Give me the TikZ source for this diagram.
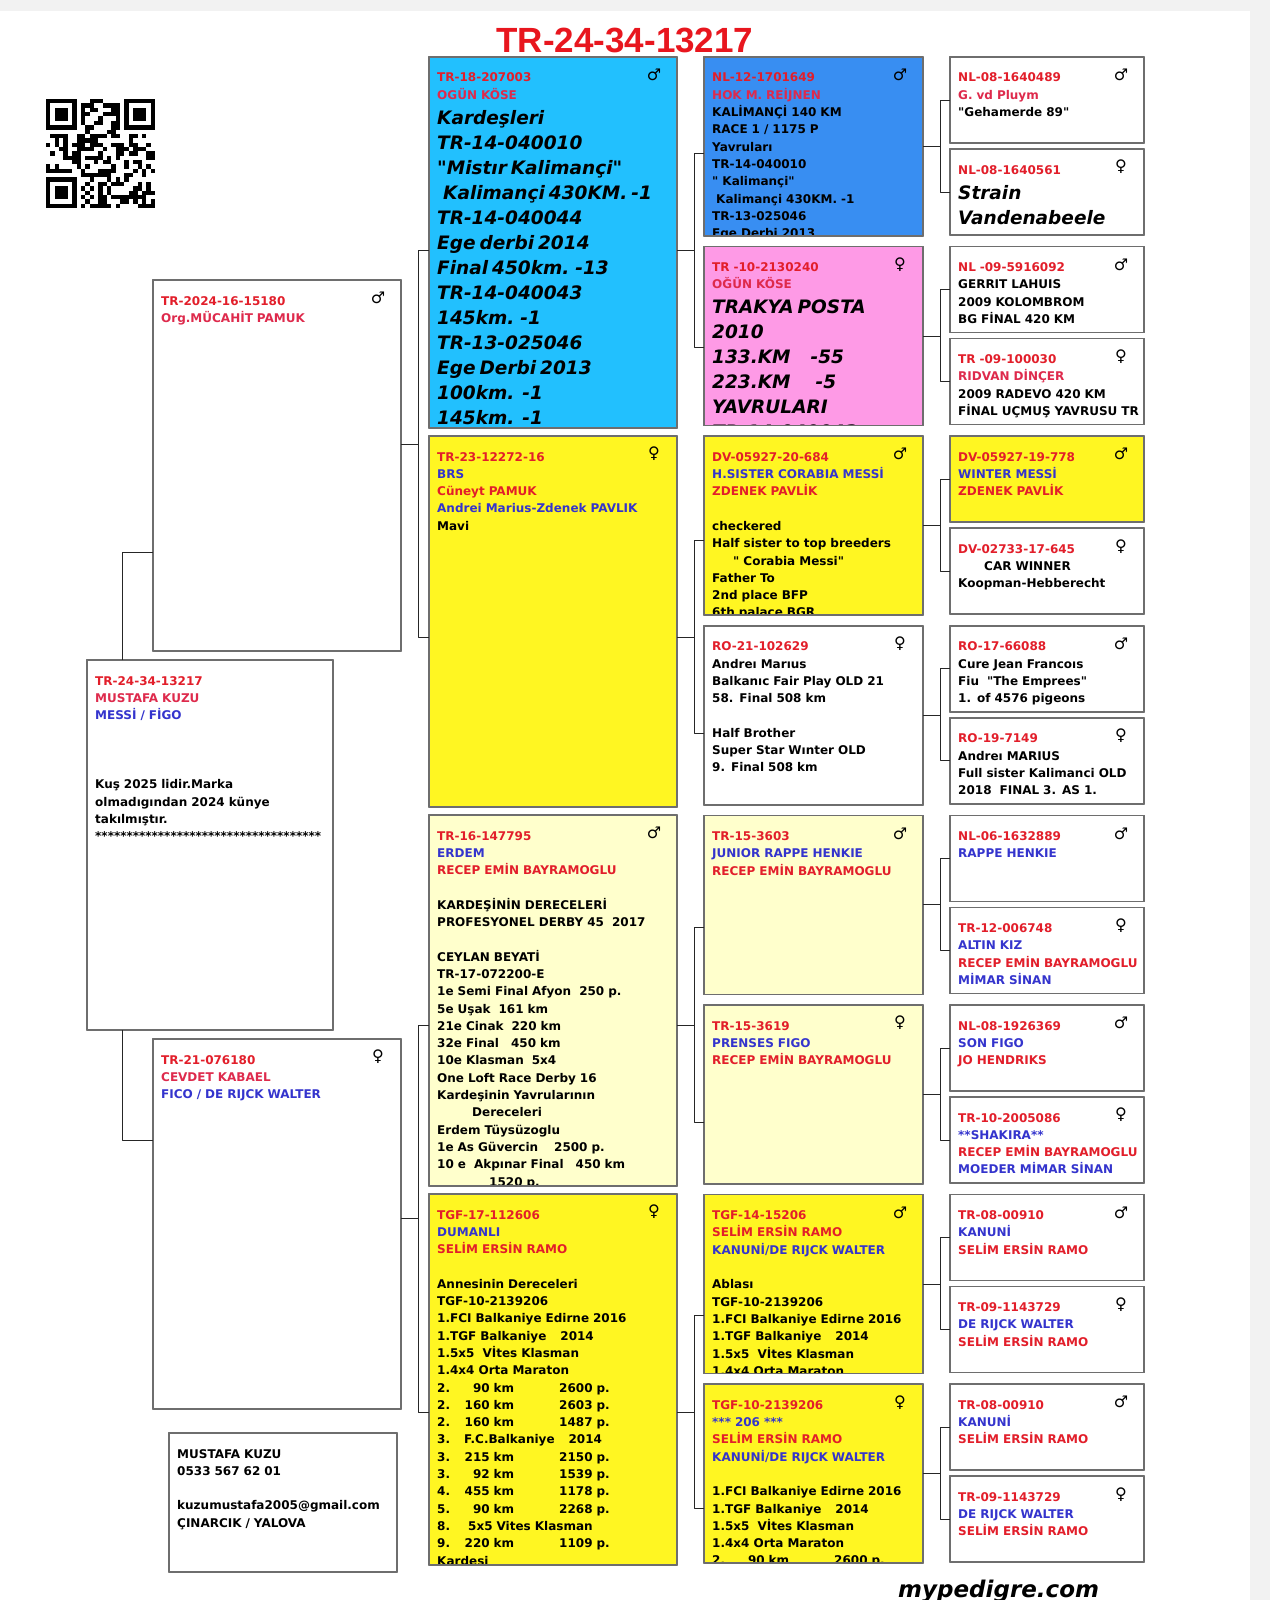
\documentclass[tikz,border=0pt]{standalone}
\usepackage{fontspec}
\setmainfont{DejaVu Sans}[Ligatures=TeXOff]
\newfontfamily\headfont{Liberation Sans}
\definecolor{titlered}{RGB}{232,22,30}
\definecolor{ringred}{RGB}{226,30,42}
\definecolor{namered}{RGB}{222,42,76}
\definecolor{nameblue}{RGB}{52,52,205}
\definecolor{boxcyan}{RGB}{34,192,254}
\definecolor{boxblue}{RGB}{56,142,242}
\definecolor{boxpink}{RGB}{254,154,230}
\definecolor{boxyellow}{RGB}{255,246,34}
\definecolor{boxcream}{RGB}{255,255,204}
\definecolor{linegray}{RGB}{110,110,110}
\definecolor{pagegray}{RGB}{242,242,242}
\newcommand{\txtn}{\fontsize{12}{17.3}\selectfont\bfseries}
\newcommand{\txtbig}{\fontsize{18.5}{25}\selectfont\bfseries\itshape}
\newcommand{\cred}[1]{\textcolor{ringred}{#1}}
\newcommand{\cpink}[1]{\textcolor{namered}{#1}}
\newcommand{\cblue}[1]{\textcolor{nameblue}{#1}}
\newcommand{\race}[3]{\makebox[25pt][l]{#1}\makebox[52pt][r]{#2}\hspace{45pt}#3}
\newcommand{\pedbox}[8]{%
  \node[pedcell, fill=#6, minimum width=#4pt, minimum height=#5pt] (#1) at (#2,#3) {};
  \begin{scope}
    \clip ([shift={(1,1)}]#1.north west) rectangle ([shift={(-1,-1)}]#1.south east);
    \node[ptxt] at ([shift={(8,25)}]#1.north west) {#8};
  \end{scope}
  \draw[draw=linegray, line width=1.6pt] (#1.north west) rectangle (#1.south east);
  \node[sexmark] at ([shift={(-23,18)}]#1.north east) {#7};
}
\begin{document}
\begin{tikzpicture}[x=1pt, y=-1pt, line join=round,
  pedcell/.style={draw=linegray, line width=1.6pt, anchor=north west, inner sep=0pt, outer sep=0pt},
  ptxt/.style={anchor=base west, inner sep=0pt, align=left, text width=320pt, font=\txtn},
  sexmark/.style={font=\fontsize{16}{16}\selectfont, inner sep=0pt},
  link/.style={draw=black!85, line width=0.9pt}]
\fill[pagegray] (0,0) rectangle (1270,1600);
\fill[white] (0,11) rectangle (1250,1600);
\useasboundingbox (0,0) rectangle (1270,1600);

\node[font=\headfont\fontsize{35}{40}\selectfont\bfseries, text=titlered, anchor=base, inner sep=0pt] (title) at (625,53) {TR-24-34-13217};
\node[font=\fontsize{23}{23}\selectfont\bfseries\itshape, anchor=base west, inner sep=0pt] (site) at (898,1597) {mypedigre.com};

\begin{scope}[shift={(46,99)}]
\pgfmathsetseed{1270}
\foreach \i in {0,...,24}{\foreach \j in {0,...,24}{
  \pgfmathsetmacro{\qrv}{rnd}
  \ifdim\qrv pt>0.52pt \fill (\i*4.36,\j*4.36) rectangle ++(4.36,4.36);\fi}}
\foreach \cx/\cy/\wx/\wy in {0/0/0/0, 18/0/17/0, 0/18/0/17}{
  \fill[white] (\wx*4.36,\wy*4.36) rectangle ++(34.88,34.88);
  \fill (\cx*4.36,\cy*4.36) rectangle ++(30.52,30.52);
  \fill[white] (\cx*4.36+4.36,\cy*4.36+4.36) rectangle ++(21.8,21.8);
  \fill (\cx*4.36+8.72,\cy*4.36+8.72) rectangle ++(13.08,13.08);}
\end{scope}

\pedbox{s}{153}{280}{248}{371}{white}{♂}{\cred{TR-2024-16-15180}\\ \cpink{Org.MÜCAHİT PAMUK}}
\pedbox{m}{87}{660}{246}{370}{white}{}{\cred{TR-24-34-13217}\\ \cpink{MUSTAFA KUZU}\\ \cblue{MESSİ / FİGO}\\ ~\\ ~\\ ~\\ Kuş 2025 lidir.Marka\\ olmadıgından 2024 künye\\ takılmıştır.\\ *************************************}
\pedbox{d}{153}{1039}{248}{370}{white}{♀}{\cred{TR-21-076180}\\ \cpink{CEVDET KABAEL}\\ \cblue{FICO / DE RIJCK WALTER}}
\pedbox{c}{169}{1433}{228}{139}{white}{}{MUSTAFA KUZU\\ 0533 567 62 01\\ ~\\ kuzumustafa2005@gmail.com\\ ÇINARCIK / YALOVA}

\pedbox{g2a}{429}{57}{248}{371}{boxcyan}{♂}{\cred{TR-18-207003}\\ \cpink{OGÜN KÖSE}\par
  {\txtbig Kardeşleri\\ TR-14-040010\\ "Mistır Kalimançi"\\ \hspace*{6pt}Kalimançi 430KM. -1\\ TR-14-040044\\ Ege derbi 2014\\ Final 450km. -13\\ TR-14-040043\\ 145km. -1\\ TR-13-025046\\ Ege Derbi 2013\\ 100km.\ \ -1\\ 145km.\ \ -1\par}}
\pedbox{g2b}{429}{436}{248}{371}{boxyellow}{♀}{\cred{TR-23-12272-16}\\ \cblue{BRS}\\ \cred{Cüneyt PAMUK}\\ \cblue{Andrei Marius-Zdenek PAVLIK}\\ Mavi}
\pedbox{g2c}{429}{815}{248}{371}{boxcream}{♂}{\cred{TR-16-147795}\\ \cblue{ERDEM}\\ \cred{RECEP EMİN BAYRAMOGLU}\\ ~\\ KARDEŞİNİN DERECELERİ\\ PROFESYONEL DERBY 45\ \ 2017\\ ~\\ CEYLAN BEYATİ\\ TR-17-072200-E\\ 1e Semi Final Afyon\ \ 250 p.\\ 5e Uşak\ \ 161 km\\ 21e Cinak\ \ 220 km\\ 32e Final\ \ \ 450 km\\ 10e Klasman\ \ 5x4\\ One Loft Race Derby 16\\ Kardeşinin Yavrularının\\ \hspace*{35pt}Dereceleri\\ Erdem Tüysüzoglu\\ 1e As Güvercin\ \ \ \ 2500 p.\\ 10 e\ \ Akpınar Final\ \ \ 450 km\\ \hspace*{52pt}1520 p.}
\pedbox{g2d}{429}{1194}{248}{371}{boxyellow}{♀}{\cred{TGF-17-112606}\\ \cblue{DUMANLI}\\ \cred{SELİM ERSİN RAMO}\\ ~\\ Annesinin Dereceleri\\ TGF-10-2139206\\ 1.FCI Balkaniye Edirne 2016\\ 1.TGF Balkaniye\hspace{14pt}2014\\ 1.5x5\ \ Vİtes Klasman\\ 1.4x4 Orta Maraton\\ \race{2.}{90 km}{2600 p.}\\ \race{2.}{160 km}{2603 p.}\\ \race{2.}{160 km}{1487 p.}\\ \makebox[27pt][l]{3.}F.C.Balkaniye\hspace{14pt}2014\\ \race{3.}{215 km}{2150 p.}\\ \race{3.}{92 km}{1539 p.}\\ \race{4.}{455 km}{1178 p.}\\ \race{5.}{90 km}{2268 p.}\\ \makebox[31pt][l]{8.}5x5 Vites Klasman\\ \race{9.}{220 km}{1109 p.}\\ Kardesi}

\pedbox{g3a}{704}{57}{219}{179}{boxblue}{♂}{\cred{NL-12-1701649}\\ \cpink{HOK M. REİJNEN}\\ KALİMANÇİ 140 KM\\ RACE 1 / 1175 P\\ Yavruları\\ TR-14-040010\\ " Kalimançi"\\ \hspace*{4pt}Kalimançi 430KM. -1\\ TR-13-025046\\ Ege Derbi 2013}
\pedbox{g3b}{704}{246.6}{219}{179}{boxpink}{♀}{\cred{TR -10-2130240}\\ \cpink{OĞÜN KÖSE}\par
  {\txtbig TRAKYA POSTA\\ 2010\\ 133.KM\hspace{20pt}-55\\ 223.KM\hspace{25pt}-5\\ YAVRULARI\\ TR-14-040043\par}}
\pedbox{g3c}{704}{436.2}{219}{179}{boxyellow}{♂}{\cred{DV-05927-20-684}\\ \cblue{H.SISTER CORABIA MESSİ}\\ \cred{ZDENEK PAVLİK}\\ ~\\ checkered\\ Half sister to top breeders\\ \hspace*{21pt}" Corabia Messi"\\ Father To\\ 2nd place BFP\\ 6th palace BGR}
\pedbox{g3d}{704}{625.8}{219}{179}{white}{♀}{\cred{RO-21-102629}\\ Andreı Marıus\\ Balkanıc Fair Play OLD 21\\ 58. Final 508 km\\ ~\\ Half Brother\\ Super Star Wınter OLD\\ 9. Final 508 km}
\pedbox{g3e}{704}{815.4}{219}{179}{boxcream}{♂}{\cred{TR-15-3603}\\ \cblue{JUNIOR RAPPE HENKIE}\\ \cred{RECEP EMİN BAYRAMOGLU}}
\pedbox{g3f}{704}{1005}{219}{179}{boxcream}{♀}{\cred{TR-15-3619}\\ \cblue{PRENSES FIGO}\\ \cred{RECEP EMİN BAYRAMOGLU}}
\pedbox{g3g}{704}{1194.6}{219}{179}{boxyellow}{♂}{\cred{TGF-14-15206}\\ \cred{SELİM ERSİN RAMO}\\ \cblue{KANUNİ/DE RIJCK WALTER}\\ ~\\ Ablası\\ TGF-10-2139206\\ 1.FCI Balkaniye Edirne 2016\\ 1.TGF Balkaniye\hspace{14pt}2014\\ 1.5x5\ \ Vİtes Klasman\\ 1.4x4 Orta Maraton}
\pedbox{g3h}{704}{1384.2}{219}{179}{boxyellow}{♀}{\cred{TGF-10-2139206}\\ \cblue{*** 206 ***}\\ \cred{SELİM ERSİN RAMO}\\ \cblue{KANUNİ/DE RIJCK WALTER}\\ ~\\ 1.FCI Balkaniye Edirne 2016\\ 1.TGF Balkaniye\hspace{14pt}2014\\ 1.5x5\ \ Vİtes Klasman\\ 1.4x4 Orta Maraton\\ \race{2.}{90 km}{2600 p.}}

\pedbox{g4a}{950}{57}{194}{86}{white}{♂}{\cred{NL-08-1640489}\\ \cpink{G. vd Pluym}\\ "Gehamerde 89"}
\pedbox{g4b}{950}{149}{194}{86}{white}{♀}{\cred{NL-08-1640561}\par {\txtbig Strain\\ Vandenabeele\par}}
\pedbox{g4c}{950}{246.6}{194}{86}{white}{♂}{\cred{NL -09-5916092}\\ GERRIT LAHUIS\\ 2009 KOLOMBROM\\ BG FİNAL 420 KM}
\pedbox{g4d}{950}{338.6}{194}{86}{white}{♀}{\cred{TR -09-100030}\\ \cpink{RIDVAN DİNÇER}\\ 2009 RADEVO 420 KM\\ FİNAL UÇMUŞ YAVRUSU TR}
\pedbox{g4e}{950}{436.2}{194}{86}{boxyellow}{♂}{\cred{DV-05927-19-778}\\ \cblue{WINTER MESSİ}\\ \cred{ZDENEK PAVLİK}}
\pedbox{g4f}{950}{528.2}{194}{86}{white}{♀}{\cred{DV-02733-17-645}\\ \hspace*{26pt}CAR WINNER\\ Koopman-Hebberecht}
\pedbox{g4g}{950}{625.8}{194}{86}{white}{♂}{\cred{RO-17-66088}\\ Cure Jean Francoıs\\ Fiu\ \ "The Emprees"\\ 1. of 4576 pigeons}
\pedbox{g4h}{950}{717.8}{194}{86}{white}{♀}{\cred{RO-19-7149}\\ Andreı MARIUS\\ Full sister Kalimanci OLD\\ 2018\ \ FINAL 3. AS 1.}
\pedbox{g4i}{950}{815.4}{194}{86}{white}{♂}{\cred{NL-06-1632889}\\ \cblue{RAPPE HENKIE}}
\pedbox{g4j}{950}{907.4}{194}{86}{white}{♀}{\cred{TR-12-006748}\\ \cblue{ALTIN KIZ}\\ \cred{RECEP EMİN BAYRAMOGLU}\\ \cblue{MİMAR SİNAN}}
\pedbox{g4k}{950}{1005}{194}{86}{white}{♂}{\cred{NL-08-1926369}\\ \cblue{SON FIGO}\\ \cred{JO HENDRIKS}}
\pedbox{g4l}{950}{1097}{194}{86}{white}{♀}{\cred{TR-10-2005086}\\ \cblue{**SHAKIRA**}\\ \cred{RECEP EMİN BAYRAMOGLU}\\ \cblue{MOEDER MİMAR SİNAN}}
\pedbox{g4m}{950}{1194.6}{194}{86}{white}{♂}{\cred{TR-08-00910}\\ \cblue{KANUNİ}\\ \cred{SELİM ERSİN RAMO}}
\pedbox{g4n}{950}{1286.6}{194}{86}{white}{♀}{\cred{TR-09-1143729}\\ \cblue{DE RIJCK WALTER}\\ \cred{SELİM ERSİN RAMO}}
\pedbox{g4o}{950}{1384.2}{194}{86}{white}{♂}{\cred{TR-08-00910}\\ \cblue{KANUNİ}\\ \cred{SELİM ERSİN RAMO}}
\pedbox{g4p}{950}{1476.2}{194}{86}{white}{♀}{\cred{TR-09-1143729}\\ \cblue{DE RIJCK WALTER}\\ \cred{SELİM ERSİN RAMO}}

\draw[link] ([xshift=35pt]m.north west) |- ([yshift=-86.5pt]s.west);
\draw[link] ([xshift=35pt]m.south west) |- ([yshift=84pt]d.west);
\draw[link] ([yshift=-7.5pt]g2a.west) -- ++(-11,0) |- ([yshift=21.5pt]s.east);
\draw[link] ([yshift=-15.5pt]g2b.west) -- ++(-11,0) |- ([yshift=21.5pt]s.east);
\draw[link] ([yshift=-24.5pt]g2c.west) -- ++(-11,0) |- ([yshift=6pt]d.east);
\draw[link] ([yshift=-32.5pt]g2d.west) -- ++(-11,0) |- ([yshift=6pt]d.east);
\foreach \p/\a/\b/\dp/\da/\db in {g2a/g3a/g3b/7.5/6.5/10.9, g2b/g3c/g3d/15.5/14.3/17.7, g2c/g3e/g3f/24.5/22.1/27.5, g2d/g3g/g3h/32.5/31/34.3}{
  \draw[link] ([yshift=-\da pt]\a.west) -- ++(-10,0) |- ([yshift=-\dp pt]\p.east);
  \draw[link] ([yshift=-\db pt]\b.west) -- ++(-10,0) |- ([yshift=-\dp pt]\p.east);}
\foreach \p/\a/\b in {g3a/g4a/g4b, g3b/g4c/g4d, g3c/g4e/g4f, g3d/g4g/g4h, g3e/g4i/g4j, g3f/g4k/g4l, g3g/g4m/g4n, g3h/g4o/g4p}{
  \draw[link] (\a.west) -- ++(-10,0) |- (\p.east);
  \draw[link] (\b.west) -- ++(-10,0) |- (\p.east);}
\end{tikzpicture}
\end{document}
